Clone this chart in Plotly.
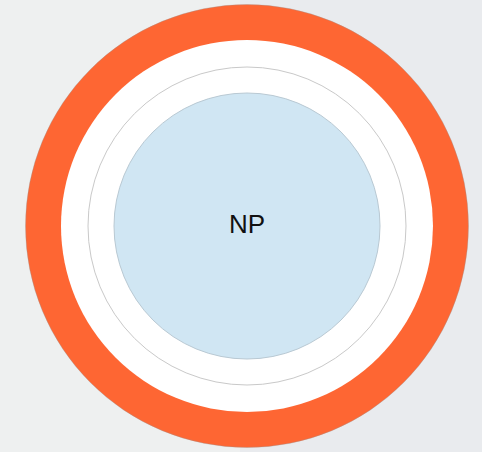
import plotly.graph_objects as go

# Concentric layers (outermost first)
layer_names = ["outer shell", "spacer", "corona", "NP"]
layer_radii = [221.5, 186.0, 159.0, 133.0]
layer_fills = ["#fe6633", "#ffffff", "#ffffff", "#d0e6f3"]
layer_lines = ["rgba(150,150,150,0.35)", "rgba(0,0,0,0)", "#c9c9c9", "#b9c9d3"]
center_x = [247.0]
center_y = [226.0]
center_label = ["NP"]

W, H = 482, 452

fig = go.Figure()
shapes = [
    dict(type="rect", xref="x", yref="y", x0=0, x1=240, y0=0, y1=H,
         fillcolor="#eef0f0", line=dict(width=0), layer="below"),
    dict(type="rect", xref="x", yref="y", x0=240, x1=W, y0=0, y1=H,
         fillcolor="#e9ebee", line=dict(width=0), layer="below"),
]
for name, r, fc, lc in zip(layer_names, layer_radii, layer_fills, layer_lines):
    shapes.append(dict(
        type="circle", xref="x", yref="y",
        x0=center_x[0] - r, x1=center_x[0] + r,
        y0=center_y[0] - r, y1=center_y[0] + r,
        fillcolor=fc, line=dict(color=lc, width=1), layer="below",
    ))

fig.add_trace(go.Scatter(
    x=center_x, y=center_y, text=center_label, mode="text",
    textfont=dict(family="Liberation Sans, Arial, sans-serif", size=26, color="#111111"),
    hoverinfo="skip", showlegend=False,
))

fig.update_layout(
    width=W, height=H,
    margin=dict(l=0, r=0, t=0, b=0),
    paper_bgcolor="#eceef0", plot_bgcolor="rgba(0,0,0,0)",
    shapes=shapes,
    xaxis=dict(range=[0, W], visible=False, fixedrange=True),
    yaxis=dict(range=[0, H], visible=False, fixedrange=True),
    showlegend=False,
)

fig.write_html("out.html", config={"displayModeBar": False},
               post_script="document.body.style.margin='0';document.body.style.background='#eceef0';")
